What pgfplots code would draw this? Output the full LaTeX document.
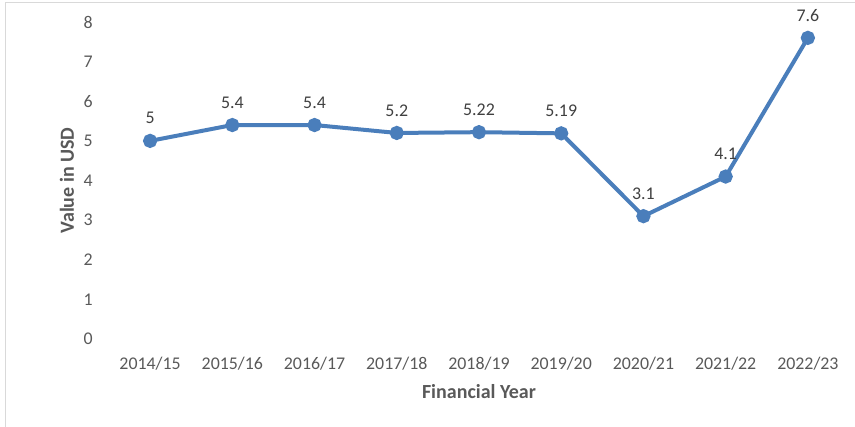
\documentclass[border=0pt]{standalone}
\usepackage{pgfplots}
\pgfplotsset{compat=1.18}
\usepackage{pgfplotstable}
\usepackage{fontspec}
\setmainfont{Carlito}
\definecolor{lineblue}{HTML}{4A7EBB}
\definecolor{ticktext}{HTML}{595959}
\definecolor{labeltext}{HTML}{404040}
\definecolor{frame}{HTML}{D9D9D9}
\pgfplotstableread{
x y lab
0 5    5
1 5.4  5.4
2 5.4  5.4
3 5.2  5.2
4 5.22 5.22
5 5.19 5.19
6 3.1  3.1
7 4.1  4.1
8 7.6  7.6
}\datatable
\begin{document}
\begin{tikzpicture}
\path[use as bounding box] (-81.75pt,-65.25pt) rectangle (559.5pt,254.25pt);
\draw[frame, line width=0.75pt] (-77.25pt,-70pt) -- (-77.25pt,252.75pt) -- (565pt,252.75pt);
\begin{axis}[
  at={(0pt,0pt)}, anchor=south west,
  scale only axis, width=555pt, height=237.75pt,
  xmin=-0.5, xmax=8.5, ymin=0, ymax=8,
  axis line style={draw=none},
  major tick length=0pt,
  xtick={0,...,8},
  xticklabels={2014/15,2015/16,2016/17,2017/18,2018/19,2019/20,2020/21,2021/22,2022/23},
  ytick={0,...,8},
  tick label style={font=\fontsize{13.4}{15}\selectfont, text=ticktext, inner sep=0pt},
  xticklabel style={anchor=north, yshift=-13pt},
  yticklabel style={anchor=east, xshift=-12pt},
  /pgf/number format/assume math mode=true,
  xlabel={Financial Year},
  ylabel={Value in USD},
  label style={font=\fontsize{15}{17}\selectfont\bfseries, text=ticktext},
  xlabel style={at={(axis description cs:0.5,-0.1672)}, anchor=center},
  ylabel style={at={(axis description cs:-0.0567,0.5)}, anchor=center},
  clip=false,
]
\addplot[lineblue, line width=3pt, mark=*, mark size=3.8pt, mark options={fill=lineblue, draw=none},
  nodes near coords, point meta=explicit symbolic,
  every node near coord/.append style={anchor=center, yshift=17pt, inner sep=0pt, font=\fontsize{13.4}{15}\selectfont, text=labeltext}]
  table[x=x, y=y, meta=lab]{\datatable};
\end{axis}
\end{tikzpicture}
\end{document}
